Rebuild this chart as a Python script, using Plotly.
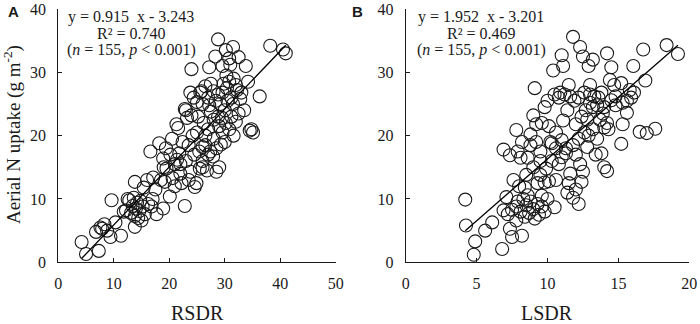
import plotly.graph_objects as go

# Panel A: RSDR vs aerial N uptake
rsdr = [4.2, 5.0, 7.3, 6.8, 7.6, 8.3, 8.8, 9.4, 10.3, 11.3, 9.6, 7.9,
        12.2, 12.8, 13.1, 13.4, 13.6, 13.8, 14.0, 14.2, 14.4, 14.6, 14.8, 15.0, 13.8, 15.2, 15.6, 13.8, 15.4, 16.8, 17.7, 18.9, 17.0, 16.2, 11.8,
        17.1, 16.6, 18.2, 18.9, 19.4, 19.2, 19.0, 20.1, 20.6, 21.0, 20.2, 21.6, 21.8, 22.0, 22.8, 22.2, 23.0, 23.5, 24.6, 24.9, 22.4, 23.8, 21.4, 20.5, 24.2, 25.0, 25.4, 26.0, 24.5, 23.2, 22.8, 21.3,
        24.0, 23.8, 24.4, 25.0, 25.6, 26.0, 26.5, 27.0, 27.5, 28.0, 28.4, 28.8, 29.2, 29.6, 30.0, 30.4, 30.8, 31.2, 31.6, 32.2, 32.8, 33.5, 34.2, 36.3, 34.8, 35.1, 34.5, 28.8, 28.3, 27.2, 29.6, 30.2, 31.5, 30.8, 31.0, 32.5, 33.8, 30.3, 29.8, 32.0, 38.2, 40.5, 41.0,
        26.5, 27.0, 27.4, 27.9, 28.5, 29.0, 28.5, 29.3, 26.2, 27.0, 28.0, 29.0, 29.6, 30.2, 30.8, 31.2, 31.6, 32.0, 32.5, 27.5, 28.8, 26.0, 26.8, 25.5, 28.0, 27.2, 25.2, 26.5, 30.0, 33.0, 25.8, 23.0, 24.0, 29.5, 30.5, 31.5, 22.0, 23.5, 21.0, 19.5, 18.5, 16.0, 17.5, 12.5, 26.0]
uptake_a = [3.2, 1.3, 1.8, 4.8, 5.5, 6.0, 5.0, 4.0, 6.3, 4.2, 9.8, 5.3,
            8.2, 9.8, 7.8, 8.9, 10.2, 7.3, 8.5, 9.4, 7.0, 8.1, 9.7, 6.6, 5.6, 8.8, 7.6, 12.7, 11.8, 8.8, 7.6, 8.5, 10.0, 9.2, 8.0,
            13.4, 17.5, 18.8, 16.4, 18.0, 12.7, 15.0, 10.4, 13.3, 15.5, 17.0, 21.2, 17.2, 14.0, 8.9, 12.5, 16.0, 18.5, 11.9, 12.5, 19.0, 14.3, 16.2, 19.5, 20.0, 20.5, 17.5, 15.0, 17.0, 22.8, 24.2, 21.8,
            30.5, 26.8, 26.0, 25.3, 26.8, 25.0, 27.8, 26.0, 28.2, 27.0, 25.5, 26.5, 25.0, 26.8, 24.0, 27.5, 28.5, 26.0, 29.0, 27.2, 25.8, 24.0, 28.5, 26.2, 21.0, 20.5, 20.8, 35.2, 32.5, 30.8, 31.0, 33.5, 34.0, 32.2, 31.2, 32.4, 31.0, 29.5, 28.2, 28.0, 34.2, 33.6, 33.0,
            18.5, 17.0, 17.5, 16.7, 18.0, 15.0, 14.3, 18.6, 22.0, 21.0, 22.5, 21.5, 20.5, 22.0, 21.0, 23.0, 20.0, 22.2, 23.5, 23.8, 23.0, 18.2, 14.5, 14.8, 19.5, 24.8, 23.0, 20.0, 19.0, 26.8, 27.0, 24.0, 23.2, 22.8, 25.5, 25.0, 15.5, 13.0, 12.0, 14.8, 13.0, 13.0, 11.5, 10.0, 16.0]

# Panel B: LSDR vs aerial N uptake
lsdr = [4.2, 4.25, 4.9, 4.8, 6.8, 5.6, 6.1, 6.9, 7.2, 7.1, 7.35, 7.5, 8.2, 7.8, 7.5, 7.9, 8.1, 8.3, 8.5, 8.7, 8.8, 9.0, 9.1, 9.3, 9.4, 9.6, 8.6, 9.8, 7.8, 8.4, 7.6, 8.0,
        6.9, 7.35, 7.8, 7.9, 8.1, 8.5, 8.4, 8.8, 9.0, 9.1, 9.2, 8.8, 9.2, 9.5, 9.5, 9.5, 9.8, 10.1, 9.3, 10.5, 10.4, 11.0, 11.1, 10.5, 10.9, 11.2, 11.6, 11.4, 11.1, 10.6, 10.6, 11.3, 11.8, 10.8, 11.6, 11.5, 11.4, 11.8, 12.2, 12.4, 12.5,
        9.8, 10.0, 10.2, 10.3, 9.9, 11.0, 12.0, 12.2, 12.6, 12.0, 12.4, 12.8, 11.9, 12.2, 12.6, 13.0, 13.3, 13.6, 13.2, 13.5, 13.0, 12.9, 13.2, 13.7, 13.4, 13.8, 12.8,
        11.8, 12.3, 12.5, 13.2, 14.2, 14.5, 14.4, 14.7, 15.2, 15.6, 15.9, 15.3, 14.5, 14.0, 15.6, 15.3, 14.2, 14.0, 14.3, 14.0, 14.2, 15.2, 16.05, 16.1, 15.8, 16.5, 17.0, 17.6, 16.75, 16.9, 18.4, 19.2,
        13.0, 13.8, 14.8, 11.5, 10.8, 12.9, 10.1, 9.6, 10.3, 13.5, 12.3, 11.0, 12.7, 14.8, 13.9, 9.0, 8.6, 10.6, 11.3, 10.0, 9.6, 12.0, 8.2]
uptake_b = [9.9, 5.8, 3.3, 1.2, 2.1, 5.0, 6.3, 8.2, 7.6, 10.3, 5.3, 4.0, 4.2, 6.6, 8.3, 9.6, 8.0, 10.0, 9.0, 7.8, 9.6, 8.4, 6.9, 9.2, 7.5, 8.8, 10.6, 8.0, 8.8, 7.2, 13.0, 12.0,
            17.8, 16.9, 20.9, 17.5, 16.5, 13.8, 11.8, 18.5, 23.2, 27.5, 21.8, 20.2, 19.0, 17.5, 16.0, 13.8, 12.6, 12.8, 12.5, 8.7, 30.3, 32.7, 31.0, 26.5, 26.8, 26.5, 26.2, 24.0, 22.4, 20.5, 18.0, 18.0, 18.5, 15.5, 14.0, 12.5, 11.0, 10.2, 9.2, 12.7, 14.3,
            24.5, 25.5, 19.0, 16.0, 14.8, 16.6, 17.0, 19.5, 20.5, 21.8, 23.0, 22.5, 25.5, 26.0, 26.8, 26.5, 26.2, 26.0, 24.5, 24.8, 25.2, 20.0, 21.0, 22.5, 17.0, 17.2, 18.2,
            35.6, 34.0, 32.5, 32.0, 33.0, 30.8, 28.8, 28.0, 28.3, 25.5, 26.0, 25.2, 25.6, 24.5, 23.6, 21.8, 22.0, 21.3, 21.0, 15.0, 14.4, 18.7, 31.0, 26.8, 27.2, 20.6, 20.4, 21.1, 33.6, 28.7, 34.3, 32.9,
            28.0, 26.8, 24.8, 28.0, 26.0, 31.0, 21.5, 22.0, 18.8, 19.5, 15.5, 19.3, 24.0, 26.2, 23.5, 15.0, 16.5, 13.0, 17.2, 10.0, 10.5, 11.5, 19.0]

slope_a, icpt_a = 0.915, -3.243
slope_b, icpt_b = 1.952, -3.201

x_ticks_a = [0, 10, 20, 30, 40, 50]
x_ticks_b = [0, 5, 10, 15, 20]
y_ticks = [0, 10, 20, 30, 40]

SERIF = "Liberation Serif, Times New Roman, serif"
INK = "#1a1a1a"

fig = go.Figure()

marker = dict(symbol="circle-open", size=13, color=INK, line=dict(width=1.1, color=INK))

fig.add_trace(go.Scatter(x=rsdr, y=uptake_a, mode="markers", marker=marker,
                         xaxis="x", yaxis="y", showlegend=False))
fa = [min(rsdr), max(rsdr)]
fig.add_trace(go.Scatter(x=fa, y=[slope_a * v + icpt_a for v in fa], mode="lines",
                         line=dict(color="black", width=1.3), xaxis="x", yaxis="y", showlegend=False))

fig.add_trace(go.Scatter(x=lsdr, y=uptake_b, mode="markers", marker=marker,
                         xaxis="x2", yaxis="y2", showlegend=False))
fb = [min(lsdr), max(lsdr)]
fig.add_trace(go.Scatter(x=fb, y=[slope_b * v + icpt_b for v in fb], mode="lines",
                         line=dict(color="black", width=1.3), xaxis="x2", yaxis="y2", showlegend=False))

W, H = 700, 324
ydom = [1 - 262.3 / H, 1 - 9 / H]

common_x = dict(showline=True, linecolor=INK, linewidth=1, ticks="inside", ticklen=4,
                tickcolor=INK, showgrid=False, zeroline=False, automargin=False,
                tickfont=dict(family=SERIF, size=16, color=INK), ticklabelstandoff=6)
common_y = dict(showline=True, linecolor=INK, linewidth=1, ticks="inside", ticklen=4,
                tickcolor=INK, showgrid=False, zeroline=False, range=[0, 40], automargin=False,
                tickvals=y_ticks, tickfont=dict(family=SERIF, size=16, color=INK),
                ticklabelstandoff=8)

fig.update_layout(
    width=W, height=H, margin=dict(l=0, r=0, t=0, b=0, autoexpand=False),
    paper_bgcolor="white", plot_bgcolor="white",
    xaxis=dict(common_x, domain=[58.3 / W, 335.7 / W], range=[0, 50], tickvals=x_ticks_a, anchor="y"),
    yaxis=dict(common_y, domain=ydom, anchor="x"),
    xaxis2=dict(common_x, domain=[405.7 / W, 689.3 / W], range=[0, 20], tickvals=x_ticks_b, anchor="y2"),
    yaxis2=dict(common_y, domain=ydom, anchor="x2"),
)

# axis titles
for txt, cx in [("RSDR", 197), ("LSDR", 547)]:
    fig.add_annotation(x=cx / W, y=1 - 313 / H, xref="paper", yref="paper", text=txt,
                       showarrow=False, xanchor="center", yanchor="middle",
                       font=dict(family=SERIF, size=20, color=INK))
fig.add_annotation(x=12 / W, y=1 - 135 / H, xref="paper", yref="paper",
                   text="Aerial N uptake (g m<sup>-2</sup>)", textangle=-90,
                   showarrow=False, xanchor="center", yanchor="middle",
                   font=dict(family=SERIF, size=19, color=INK))

def add_eq(cx, lines):
    ys = [17, 33, 50]
    for txt, yp in zip(lines, ys):
        fig.add_annotation(x=cx / W, y=1 - yp / H, xref="paper", yref="paper",
                           text=txt, showarrow=False, xanchor="center", yanchor="middle",
                           font=dict(family=SERIF, size=16, color=INK))

add_eq(131, ["y = 0.915  x - 3.243", "R² = 0.740", "(<i>n</i> = 155, <i>p</i> < 0.001)"])
add_eq(481, ["y = 1.952  x - 3.201", "R² = 0.469", "(<i>n</i> = 155, <i>p</i> < 0.001)"])

for lab, px in [("A", 13), ("B", 357)]:
    fig.add_annotation(x=px / W, y=1 - 11 / H, xref="paper", yref="paper", text="<b>%s</b>" % lab,
                       showarrow=False, xanchor="center", yanchor="middle",
                       font=dict(family="Liberation Sans, Arial, sans-serif", size=15, color=INK))

fig.write_html("out.html", config={"displayModeBar": False},
               post_script="document.body.style.margin='0';document.body.style.overflow='hidden';")
